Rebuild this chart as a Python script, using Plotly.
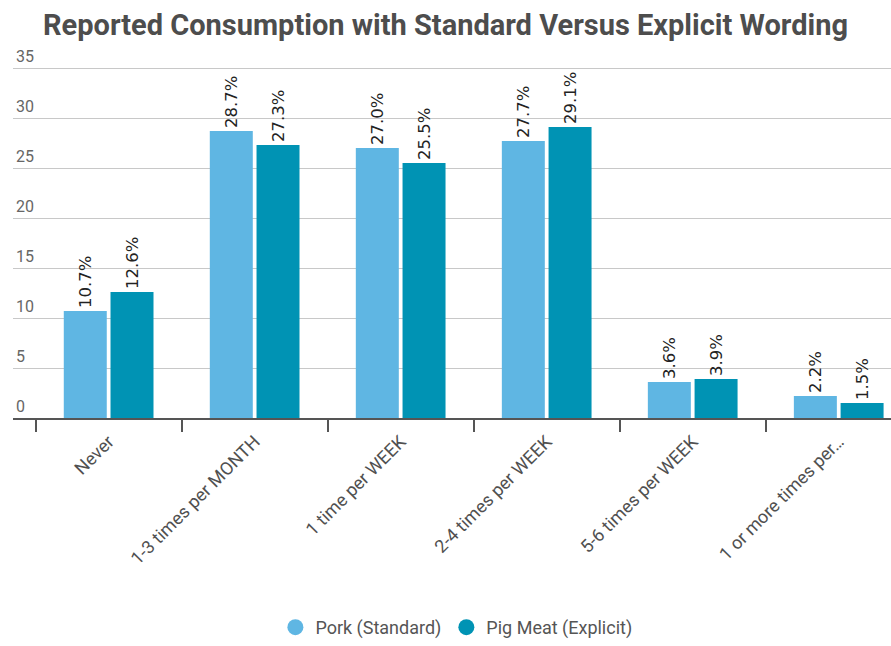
import plotly.graph_objects as go

categories = ["Never", "1-3 times per MONTH", "1 time per WEEK", "2-4 times per WEEK",
              "5-6 times per WEEK", "1 or more times per…"]
pork_standard = [10.7, 28.7, 27.0, 27.7, 3.6, 2.2]
pig_meat_explicit = [12.6, 27.3, 25.5, 29.1, 3.9, 1.5]
series_names = ["Pork (Standard)", "Pig Meat (Explicit)"]
colors = ["#5FB6E3", "#0093B4"]
y_ticks = [0, 5, 10, 15, 20, 25, 30, 35]

fig = go.Figure()
for name, vals, col in zip(series_names, [pork_standard, pig_meat_explicit], colors):
    fig.add_trace(go.Bar(
        x=categories, y=vals, name=name, showlegend=False,
        marker=dict(color=col, line=dict(width=0)),
        texttemplate="%{y:.1f}%<span style='font-size:7px'>\u00a0</span>",
        textposition="outside", textangle=-90,
        textfont=dict(family="DejaVu Sans", size=16.5, color="#222222"),
        constraintext="none", cliponaxis=False,
    ))
# legend entries with circular symbols
for name, col in zip(series_names, colors):
    fig.add_trace(go.Scatter(
        x=[None], y=[None], mode="markers", name=name,
        marker=dict(color=col, size=22, symbol="circle"),
    ))

fig.update_layout(
    width=891, height=646,
    margin=dict(l=13, r=0, t=38, b=226),
    paper_bgcolor="white", plot_bgcolor="white",
    barmode="group", bargap=0.36, bargroupgap=0.08,
    font=dict(family="Roboto", color="#555555"),
    title=dict(text="<b>Reported Consumption with Standard Versus Explicit Wording</b>",
               x=0.5, xanchor="center", y=0.962, yanchor="middle",
               font=dict(family="Roboto", size=29, color="#4D4D4D")),
    legend=dict(orientation="h", x=0.505, xanchor="center", y=-0.553, yanchor="middle",
                font=dict(family="Roboto", size=18, color="#555555"),
                itemsizing="trace"),
)
fig.update_xaxes(
    type="category", range=[-0.655, 5.358],
    tickangle=-45, tickfont=dict(family="Roboto", size=18, color="#505050"),
    ticks="outside", tickson="boundaries", ticklen=12, tickwidth=1.5, tickcolor="#555555",
    ticklabelstandoff=4,
    showline=True, linecolor="#555555", linewidth=2,
    showgrid=False,
)
fig.update_yaxes(
    range=[0, 38.0], tickvals=y_ticks,
    ticklabelposition="inside top",
    tickfont=dict(family="Roboto", size=16, color="#666666"),
    showgrid=True, gridcolor="#C8C8C8", gridwidth=1,
    zeroline=False, ticks="",
)
fig.write_html("out.html")
